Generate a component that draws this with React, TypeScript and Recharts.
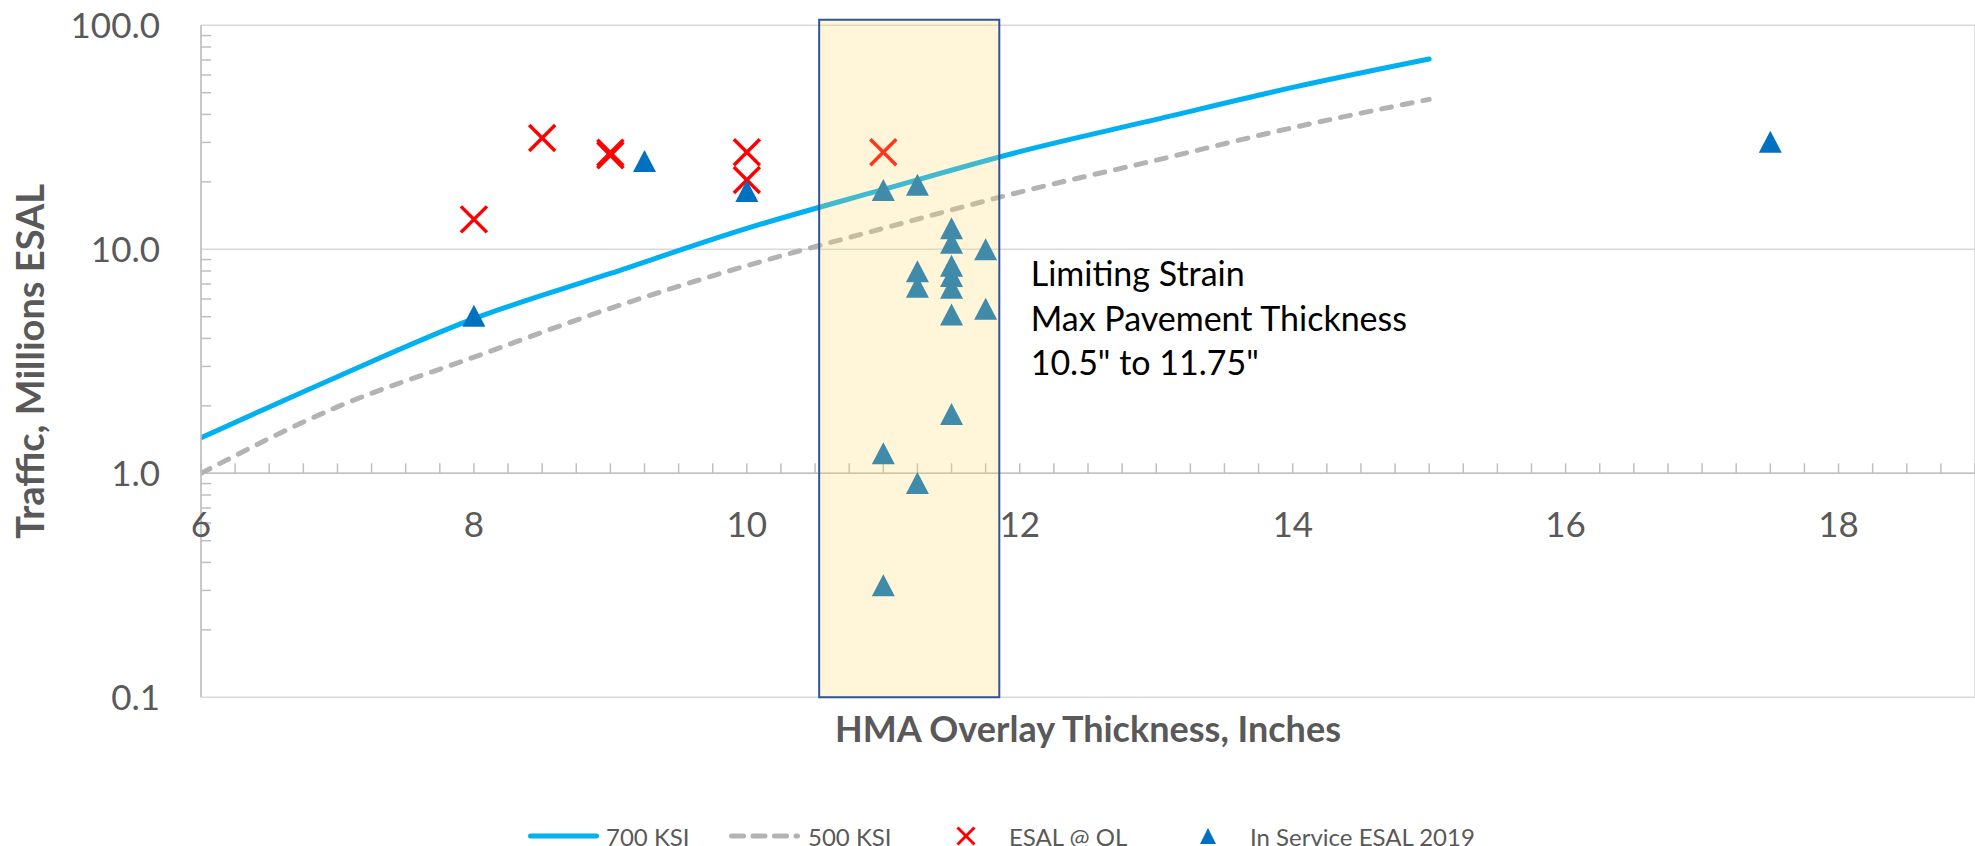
import React from 'react';
import {
  ComposedChart,
  Line,
  Scatter,
  XAxis,
  YAxis,
  CartesianGrid,
  ReferenceArea,
  ReferenceLine,
  ReferenceDot,
  Legend,
} from 'recharts';

const FONT = 'Lato, "Noto Sans", sans-serif';
const AXIS_GREY = '#595959';

// limiting strain curves, read at whole inches
const curveThickness = [6, 7, 8, 9, 10, 11, 12, 13, 14, 15];
const esal700 = [1.44, 2.7, 4.9, 7.8, 12.4, 18.5, 27.3, 38.0, 52.8, 70.7];
const esal500 = [1.0, 1.98, 3.3, 5.45, 8.45, 12.4, 18.0, 25.0, 34.9, 46.7];

// ESAL @ OL (red x)
const olThickness = [8, 8.5, 9, 9, 10, 10, 11];
const olEsal = [13.6, 31.4, 26.3, 27.0, 27.1, 20.4, 27.1];

// In Service ESAL 2019 (blue triangles)
const svcThickness = [8, 9.25, 10, 11, 11.25, 11.5, 11.5, 11.75, 11.5, 11.5, 11.5, 11.25, 11.25, 11.5, 11.75, 11.5, 11, 11.25, 11, 17.5];
const svcEsal = [5.05, 24.8, 18.2, 18.4, 19.4, 12.4, 10.7, 10.0, 8.45, 7.6, 6.74, 7.98, 6.8, 5.12, 5.43, 1.84, 1.23, 0.905, 0.316, 30.2];

const xTicks = [6, 8, 10, 12, 14, 16, 18];
const yTicks = [0.1, 1, 10, 100];
const yMinorTicks = [0.2, 0.3, 0.4, 0.5, 0.6, 0.7, 0.8, 0.9, 2, 3, 4, 5, 6, 7, 8, 9, 20, 30, 40, 50, 60, 70, 80, 90];
const xMinorTicks = Array.from({ length: 53 }, (_, i) => 6 + i * 0.25);

const bandFrom = 10.53;
const bandTo = 11.85;
const noteLines = ['Limiting Strain', 'Max Pavement Thickness', '10.5" to 11.75"'];

const curve700 = curveThickness.map((x, i) => ({ x, y: esal700[i] }));
const curve500 = curveThickness.map((x, i) => ({ x, y: esal500[i] }));
const olData = olThickness.map((x, i) => ({ x, y: olEsal[i] }));
const svcData = svcThickness.map((x, i) => ({ x, y: svcEsal[i] }));

const XMark = (props: any) => {
  const { cx, cy } = props;
  const h = 13;
  return (
    <g>
      <line x1={cx - h} y1={cy - h} x2={cx + h} y2={cy + h} stroke="#FF0000" strokeWidth={3.5} />
      <line x1={cx - h} y1={cy + h} x2={cx + h} y2={cy - h} stroke="#FF0000" strokeWidth={3.5} />
    </g>
  );
};

const Triangle = (props: any) => {
  const { cx, cy } = props;
  return <polygon points={`${cx},${cy - 11} ${cx + 11.5},${cy + 11} ${cx - 11.5},${cy + 11}`} fill="#0070C0" />;
};

const xMinorTick = (props: any) => (
  <line x1={props.cx} y1={props.cy} x2={props.cx} y2={props.cy - 10} stroke="#BFBFBF" strokeWidth={1.5} />
);

const yMinorTick = (props: any) => (
  <line x1={props.cx} y1={props.cy} x2={props.cx + 10} y2={props.cy} stroke="#BFBFBF" strokeWidth={1.5} />
);

const xTickLabel = (value: number) => (props: any) => (
  <text x={props.cx} y={props.cy + 64} textAnchor="middle" fill={AXIS_GREY} fontSize={35} fontFamily={FONT}>
    {value}
  </text>
);

const noteShape = (props: any) => (
  <text x={props.cx} y={props.cy} fill="#000" fontSize={34} fontFamily={FONT}>
    {noteLines.map((l, i) => (
      <tspan key={l} x={props.cx} y={props.cy + 36.7 + i * 44.5}>
        {l}
      </tspan>
    ))}
  </text>
);

const renderLegend = () => (
  <div
    style={{
      display: 'flex',
      alignItems: 'center',
      height: 52,
      paddingLeft: 528,
      fontFamily: FONT,
      fontSize: 24,
      color: AXIS_GREY,
      whiteSpace: 'nowrap',
    }}
  >
    <div style={{ width: 201, display: 'flex', alignItems: 'center' }}>
      <svg width={71} height={10} style={{ marginRight: 7 }}>
        <line x1={2.5} y1={5} x2={68.5} y2={5} stroke="#00B0F0" strokeWidth={5} strokeLinecap="round" />
      </svg>
      <span>700 KSI</span>
    </div>
    <div style={{ width: 223, display: 'flex', alignItems: 'center' }}>
      <svg width={71} height={10} style={{ marginRight: 8 }}>
        <line x1={2.5} y1={5} x2={68.5} y2={5} stroke="#B3B3B3" strokeWidth={5} strokeLinecap="round" strokeDasharray="12 9.5" />
      </svg>
      <span>500 KSI</span>
    </div>
    <div style={{ width: 244, display: 'flex', alignItems: 'center' }}>
      <svg width={28} height={28} style={{ marginRight: 29 }}>
        <line x1={5.5} y1={5.5} x2={22.5} y2={22.5} stroke="#FF0000" strokeWidth={3} />
        <line x1={5.5} y1={22.5} x2={22.5} y2={5.5} stroke="#FF0000" strokeWidth={3} />
      </svg>
      <span>ESAL @ OL</span>
    </div>
    <div style={{ display: 'flex', alignItems: 'center' }}>
      <svg width={24} height={20} style={{ marginRight: 30 }}>
        <polygon points="12,2 20,18 4,18" fill="#0070C0" />
      </svg>
      <span>In Service ESAL 2019</span>
    </div>
  </div>
);

export default function App() {
  return (
    <div style={{ position: 'absolute', left: 0, top: 0, width: 1975, height: 846, overflow: 'hidden', background: '#fff' }}>
      <ComposedChart width={1975} height={846} margin={{ top: 25.3, right: 0, bottom: 0, left: 0 }}>
        <CartesianGrid stroke="#D9D9D9" strokeWidth={1.5} />
        <XAxis
          type="number"
          dataKey="x"
          domain={[6, 19]}
          ticks={xTicks}
          allowDataOverflow
          height={148.7}
          axisLine={false}
          tickLine={false}
          tick={false}
          label={{
            value: 'HMA Overlay Thickness, Inches',
            position: 'insideTop',
            offset: 19,
            fill: AXIS_GREY,
            fontSize: 36,
            fontWeight: 700,
            fontFamily: FONT,
          }}
        />
        <YAxis
          type="number"
          dataKey="y"
          scale="log"
          domain={[0.1, 100]}
          ticks={yTicks}
          allowDataOverflow
          width={201}
          axisLine={{ stroke: '#BFBFBF', strokeWidth: 1.5 }}
          tickLine={false}
          tickSize={0}
          tickMargin={41}
          tickFormatter={(v: number) => v.toFixed(1)}
          tick={{ fill: AXIS_GREY, fontSize: 35, fontFamily: FONT }}
          label={{
            value: 'Traffic, Millions ESAL',
            angle: -90,
            position: 'insideLeft',
            offset: 31,
            fill: AXIS_GREY,
            fontSize: 38,
            fontWeight: 700,
            fontFamily: FONT,
            style: { textAnchor: 'middle' },
          }}
        />
        <ReferenceLine y={1} stroke="#BFBFBF" strokeWidth={1.5} />
        {xMinorTicks.map((t) => (
          <ReferenceDot key={`xm${t}`} x={t} y={1} shape={xMinorTick} />
        ))}
        {yMinorTicks.map((t) => (
          <ReferenceDot key={`ym${t}`} x={6} y={t} shape={yMinorTick} />
        ))}
        {xTicks.map((t) => (
          <ReferenceDot key={`xl${t}`} x={t} y={1} shape={xTickLabel(t)} />
        ))}
        <Line
          data={curve700}
          dataKey="y"
          type="monotone"
          stroke="#00B0F0"
          strokeWidth={5}
          strokeLinecap="round"
          dot={false}
          activeDot={false}
          isAnimationActive={false}
        />
        <Line
          data={curve500}
          dataKey="y"
          type="monotone"
          stroke="#B3B3B3"
          strokeWidth={5}
          strokeLinecap="round"
          strokeDasharray="10 11"
          dot={false}
          activeDot={false}
          isAnimationActive={false}
        />
        <Scatter data={olData} shape={XMark} isAnimationActive={false} />
        <Scatter data={svcData} shape={Triangle} isAnimationActive={false} />
        <ReferenceArea
          x1={bandFrom}
          x2={bandTo}
          y1={0.1}
          y2={106}
          ifOverflow="visible"
          fill="#FFD966"
          fillOpacity={0.25}
          stroke="#2F5597"
          strokeWidth={2}
          zIndex={1000}
        />
        <ReferenceDot x={12.08} y={10} shape={noteShape} />
        <Legend
          layout="horizontal"
          verticalAlign="middle"
          align="center"
          content={renderLegend}
          wrapperStyle={{ top: 810, left: 0, width: 1975, height: 52 }}
        />
      </ComposedChart>
    </div>
  );
}
